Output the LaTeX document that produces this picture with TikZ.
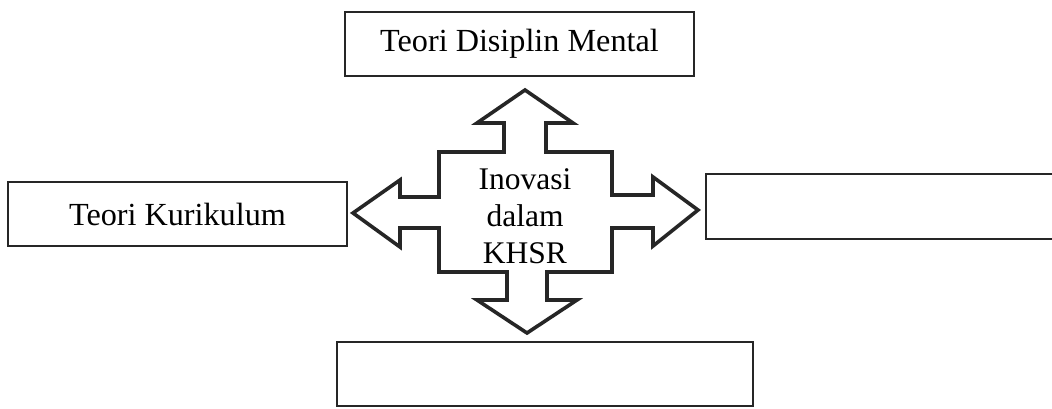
\documentclass[tikz,border=0pt]{standalone}
\usepackage{fontspec}
\setmainfont{Liberation Serif}
\tikzset{
  box/.style={draw=black!85, line width=1.6pt, inner sep=0pt,
    font=\fontsize{32.2}{37}\selectfont},
  crossline/.style={draw=black!85, line width=3.6pt, line join=miter, fill=white}
}
\begin{document}
\begin{tikzpicture}[x=1pt,y=-1pt]
\useasboundingbox (0,0) rectangle (1052,409);
% outer boxes
\node[box, minimum width=349, minimum height=64] (disiplin) at (519.5,44) {Teori Disiplin Mental};
\node[box, minimum width=339, minimum height=64] (kurikulum) at (177.5,214) {Teori Kurikulum};
\node[box, minimum width=364, minimum height=65] (kanan) at (888,206.5) {};
\node[box, minimum width=416, minimum height=64] (bawah) at (545,374) {};
% four-way arrow
\draw[crossline] (525,90) -- (573,123) -- (546,123) -- (546,152) -- (612,152)
  -- (612,195) -- (653,195) -- (653,177) -- (698,210) -- (653,246) -- (653,228)
  -- (612,228) -- (612,272) -- (547,272) -- (547,300) -- (577,300) -- (527,333)
  -- (477,300) -- (507,300) -- (507,272) -- (439,272) -- (439,228) -- (400,228)
  -- (400,247) -- (353,213) -- (400,180) -- (400,197) -- (439,197) -- (439,152)
  -- (504,152) -- (504,123) -- (477,123) -- cycle;
\node[align=center, inner sep=0pt, font=\fontsize{31.5}{37}\selectfont] (inovasi) at (525,216) {Inovasi\\dalam\\KHSR};
\end{tikzpicture}
\end{document}
